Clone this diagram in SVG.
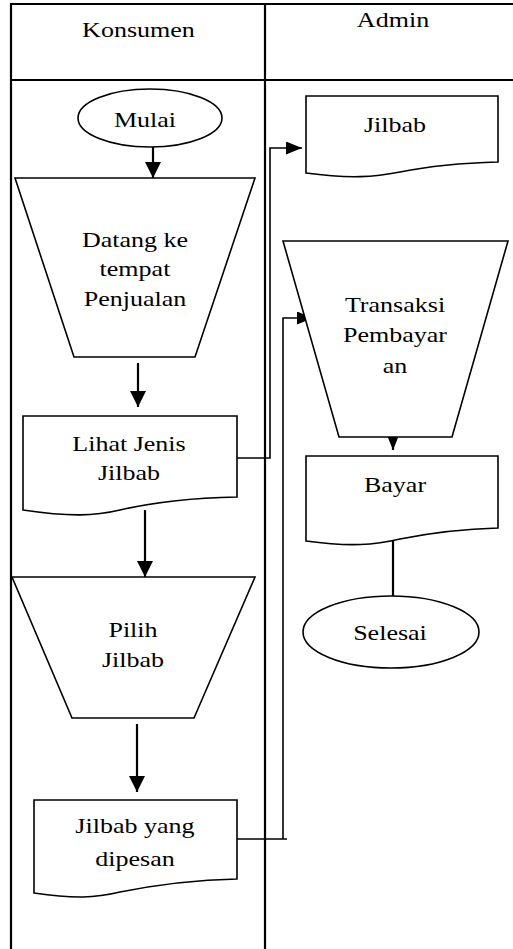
<svg xmlns="http://www.w3.org/2000/svg" width="513" height="949" viewBox="0 0 513 949">
<style>
.lane{stroke:#000;stroke-width:2.2;fill:none}
.shape{stroke:#000;stroke-width:1.6;fill:#fff}
.arrow{stroke:#000;stroke-width:2.2;fill:none}
.conn{stroke:#000;stroke-width:1.6;fill:none}
</style>
<defs>
<marker id="ah" markerUnits="userSpaceOnUse" markerWidth="16" markerHeight="16" viewBox="0 0 16 16" refX="16" refY="8" orient="auto">
<path d="M0,0 L16,8 L0,16 Z" fill="#000"/>
</marker>
<marker id="ahs" markerUnits="userSpaceOnUse" markerWidth="16" markerHeight="13" viewBox="0 0 16 13" refX="16" refY="6.5" orient="auto">
<path d="M0,0 L16,6.5 L0,13 Z" fill="#000"/>
</marker>
</defs>
<rect width="513" height="949" fill="#fff"/>
<g id="lanes">
<line class="lane" x1="11" y1="4" x2="513" y2="4"/>
<line class="lane" x1="11" y1="80" x2="513" y2="80"/>
<line class="lane" x1="11" y1="3" x2="11" y2="949"/>
<line class="lane" x1="265" y1="3" x2="265" y2="949"/>
<text font-family="Liberation Serif" font-size="21" text-anchor="middle" transform="translate(138.5,37) scale(1.24,1)">Konsumen</text>
<text font-family="Liberation Serif" font-size="21" text-anchor="middle" transform="translate(393,27) scale(1.24,1)">Admin</text>
</g>
<g id="connectors">
<line class="arrow" x1="153" y1="147" x2="153" y2="178" marker-end="url(#ah)"/>
<line class="arrow" x1="138" y1="363" x2="138" y2="407" marker-end="url(#ah)"/>
<line class="arrow" x1="145" y1="510" x2="145" y2="577" marker-end="url(#ah)"/>
<line class="arrow" x1="137" y1="724" x2="137" y2="792" marker-end="url(#ah)"/>
<line class="arrow" x1="393" y1="423" x2="393" y2="450" marker-end="url(#ahs)"/>
<line class="arrow" x1="393" y1="540" x2="393" y2="596"/>
<polyline class="conn" points="237,458 270,458 270,148 302,148" marker-end="url(#ahs)"/>
<polyline class="conn" points="237,839 287,839"/>
<polyline class="conn" points="283,839 283,318 313,318" marker-end="url(#ahs)"/>
</g>
<g id="mulai">
<ellipse class="shape" cx="150" cy="118" rx="72" ry="29"/>
<text font-family="Liberation Serif" font-size="21" text-anchor="middle" transform="translate(145,127) scale(1.24,1)">Mulai</text>
</g>
<g id="datang">
<polygon class="shape" points="15,178 255,178 195,357 74,357"/>
<text font-family="Liberation Serif" font-size="21" text-anchor="middle" transform="translate(135,247) scale(1.24,1)"><tspan x="0" y="0">Datang ke</tspan><tspan x="0" y="29">tempat</tspan><tspan x="0" y="59">Penjualan</tspan></text>
</g>
<g id="lihat">
<path class="shape" d="M23,416 H237 V497 C190,498 150,503 120,510 C95,516 70,517 23,510 Z"/>
<text font-family="Liberation Serif" font-size="21" text-anchor="middle" transform="translate(129,451) scale(1.24,1)"><tspan x="0" y="0">Lihat Jenis</tspan><tspan x="0" y="29">Jilbab</tspan></text>
</g>
<g id="pilih">
<polygon class="shape" points="12,577 255,577 194,718 72,718"/>
<text font-family="Liberation Serif" font-size="21" text-anchor="middle" transform="translate(133,637) scale(1.24,1)"><tspan x="0" y="0">Pilih</tspan><tspan x="0" y="30">Jilbab</tspan></text>
</g>
<g id="dipesan">
<path class="shape" d="M34,800 H237 V879 C190,880 150,886 120,892 C95,898 75,899 34,893 Z"/>
<text font-family="Liberation Serif" font-size="21" text-anchor="middle" transform="translate(135,833) scale(1.24,1)"><tspan x="0" y="0">Jilbab yang</tspan><tspan x="0" y="33">dipesan</tspan></text>
</g>
<g id="jilbab">
<path class="shape" d="M306,96 H498 V162 C460,163 430,166 400,172 C375,177 350,179 306,173 Z"/>
<text font-family="Liberation Serif" font-size="21" text-anchor="middle" transform="translate(395,132) scale(1.24,1)">Jilbab</text>
</g>
<g id="transaksi">
<polygon class="shape" points="283,241 508,241 452,437 339,437"/>
<text font-family="Liberation Serif" font-size="21" text-anchor="middle" transform="translate(395,312) scale(1.24,1)"><tspan x="0" y="0">Transaksi</tspan><tspan x="0" y="30">Pembayar</tspan><tspan x="0" y="61">an</tspan></text>
</g>
<g id="bayar">
<path class="shape" d="M306,456 H498 V528 C460,529 430,533 400,539 C375,545 350,547 306,541 Z"/>
<text font-family="Liberation Serif" font-size="21" text-anchor="middle" transform="translate(395,492) scale(1.24,1)">Bayar</text>
</g>
<g id="selesai">
<ellipse class="shape" cx="391" cy="632" rx="88" ry="36"/>
<text font-family="Liberation Serif" font-size="21" text-anchor="middle" transform="translate(390,640) scale(1.24,1)">Selesai</text>
</g>
</svg>
